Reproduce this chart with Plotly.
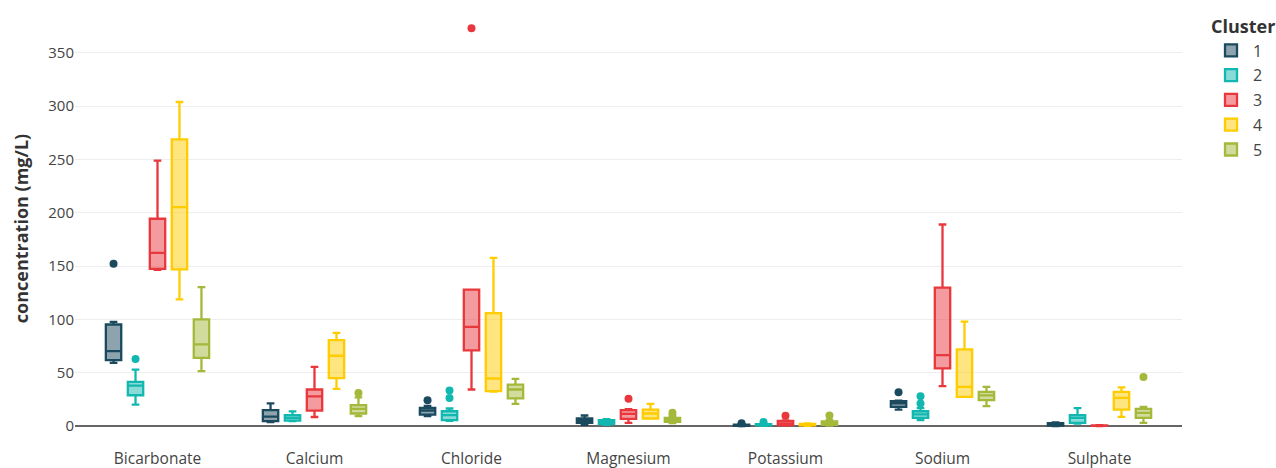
import plotly.graph_objects as go

categories = ["Bicarbonate", "Calcium", "Chloride", "Magnesium", "Potassium", "Sodium", "Sulphate"]
clusters = ["1", "2", "3", "4", "5"]
colors = ["#1b4a5e", "#12b8b0", "#e8383d", "#ffcc00", "#a4b83a"]

# per-cluster statistics, one value per category (same order as categories)
c1_lower = [59.4, 3.8, 9.4, 1.2, 0.1, 15.6, 0.2]
c1_q1 = [61.9, 4.7, 10.9, 3.1, 0.4, 18.1, 0.5]
c1_median = [70.3, 9.0, 14.7, 5.3, 0.8, 21.3, 1.5]
c1_q3 = [95.3, 15.0, 17.2, 7.2, 1.4, 23.4, 2.8]
c1_upper = [97.8, 21.3, 19.0, 10.0, 1.8, 24.0, 3.5]
c1_outliers = [[152.2], [], [24.4], [], [2.8], [31.9], []]

c2_lower = [20.3, 4.7, 5.0, 1.2, 0.3, 5.6, 2.5]
c2_q1 = [29.0, 5.3, 5.6, 1.9, 0.8, 7.8, 3.1]
c2_median = [38.0, 7.8, 10.3, 3.7, 1.3, 11.0, 7.8]
c2_q3 = [41.6, 10.3, 14.0, 5.6, 2.0, 14.0, 10.3]
c2_upper = [53.0, 13.8, 16.6, 6.5, 2.5, 17.0, 16.9]
c2_outliers = [[63.0], [], [26.3, 33.4], [], [4.0], [21.3, 28.1], []]

c3_lower = [146.6, 8.6, 34.4, 3.1, 0.5, 37.5, 0.2]
c3_q1 = [147.5, 14.5, 71.0, 6.9, 1.0, 54.1, 0.3]
c3_median = [162.5, 28.0, 93.0, 11.6, 2.5, 66.6, 0.5]
c3_q3 = [194.4, 34.4, 128.0, 15.0, 5.0, 129.8, 0.8]
c3_upper = [248.8, 55.6, 128.0, 16.0, 5.5, 189.0, 0.9]
c3_outliers = [[], [], [372.9], [25.6], [9.8], [], []]

c4_lower = [118.8, 35.0, 32.5, 7.0, 0.4, 27.5, 8.8]
c4_q1 = [146.9, 45.0, 32.8, 7.2, 0.8, 27.5, 15.6]
c4_median = [205.3, 66.0, 44.7, 11.9, 1.2, 36.9, 26.6]
c4_q3 = [268.8, 80.6, 106.0, 15.6, 2.2, 71.9, 32.2]
c4_upper = [303.8, 87.5, 157.8, 21.0, 2.6, 97.9, 36.3]
c4_outliers = [[], [], [], [], [], [], []]

c5_lower = [51.6, 9.4, 21.0, 3.0, 0.5, 18.8, 3.1]
c5_q1 = [64.0, 11.9, 26.0, 4.0, 1.2, 24.4, 7.8]
c5_median = [76.6, 16.3, 34.4, 6.2, 2.5, 28.8, 12.5]
c5_q3 = [100.0, 19.7, 39.0, 7.8, 4.5, 32.2, 16.3]
c5_upper = [130.3, 27.0, 44.4, 10.0, 6.0, 36.9, 18.1]
c5_outliers = [[], [31.0], [], [12.5], [10.0], [], [46.0]]

y_ticks = [0, 50, 100, 150, 200, 250, 300, 350]

stats = [
    (c1_lower, c1_q1, c1_median, c1_q3, c1_upper, c1_outliers),
    (c2_lower, c2_q1, c2_median, c2_q3, c2_upper, c2_outliers),
    (c3_lower, c3_q1, c3_median, c3_q3, c3_upper, c3_outliers),
    (c4_lower, c4_q1, c4_median, c4_q3, c4_upper, c4_outliers),
    (c5_lower, c5_q1, c5_median, c5_q3, c5_upper, c5_outliers),
]

fig = go.Figure()
for name, color, (lo, q1, med, q3, hi, outl) in zip(clusters, colors, stats):
    # empty outlier rows become [None] so plotly.js still reads y as 2D sample arrays
    sample_rows = [row if row else [None] for row in outl]
    fig.add_trace(go.Box(
        name=name,
        legendgroup=name,
        x=categories,
        y=sample_rows,
        q1=q1, median=med, q3=q3,
        lowerfence=lo, upperfence=hi,
        orientation="v",
        boxpoints="outliers",
        pointpos=0,
        jitter=0,
        line=dict(color=color, width=2.3),
        marker=dict(color=color, size=8),
    ))

fig.update_layout(
    width=1276, height=468,
    margin=dict(l=75, r=94, t=10, b=21, autoexpand=False),
    paper_bgcolor="white",
    plot_bgcolor="white",
    font=dict(family="Open Sans", color="#444444", size=15),
    boxmode="group",
    boxgap=0.3, boxgroupgap=0.3,
    legend=dict(
        title=dict(text="<b>Cluster</b>", font=dict(size=18, color="#333333")),
        font=dict(size=16, color="#444444"),
        x=1.0244, y=1.0, yanchor="top", xanchor="left",
        itemwidth=34,
        tracegroupgap=1,
    ),
    xaxis=dict(showgrid=False, showline=False, ticks="", tickfont=dict(size=15.5),
               automargin=False),
    yaxis=dict(
        title=dict(text="<b>concentration (mg/L)</b>", font=dict(size=18, color="#333333"), standoff=14),
        range=[-19.5, 390],
        tickvals=y_ticks,
        showgrid=True, gridcolor="#eeeeee", gridwidth=1,
        zeroline=True, zerolinecolor="#666666", zerolinewidth=2,
        showline=False, ticks="", tickfont=dict(size=15),
        automargin=False,
    ),
)

fig.write_html("out.html")
